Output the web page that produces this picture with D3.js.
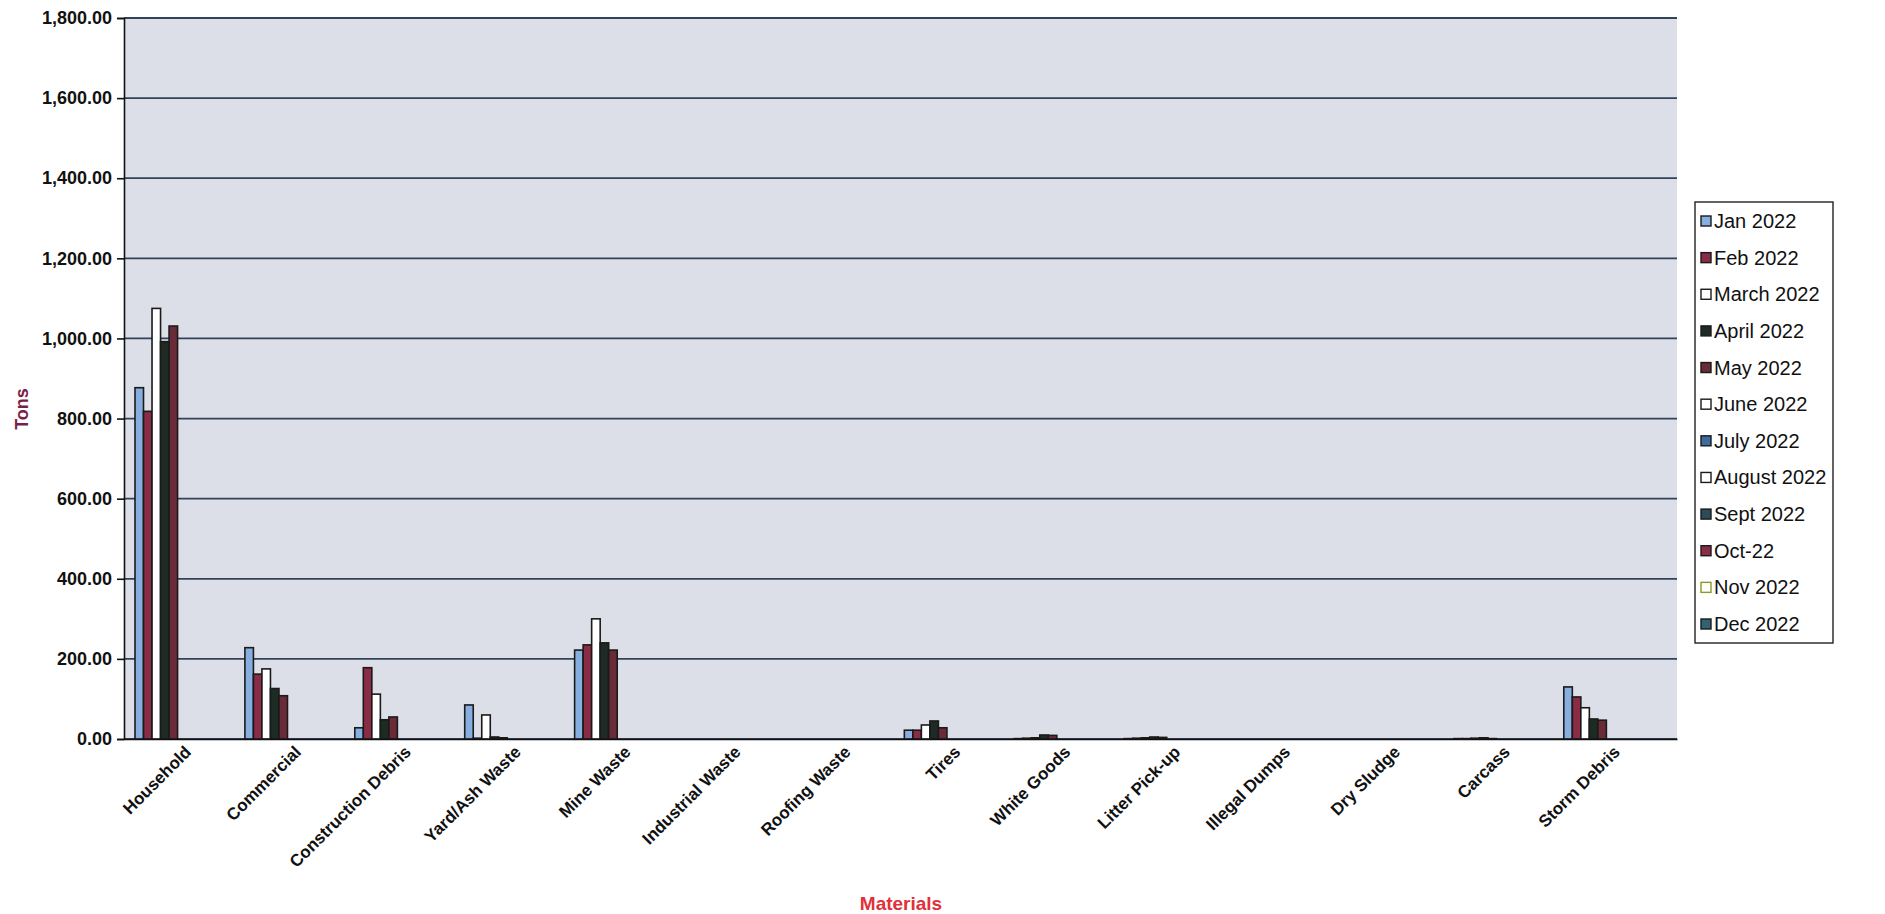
<!DOCTYPE html>
<html><head><meta charset="utf-8">
<script src="https://cdn.jsdelivr.net/npm/d3@7"></script>
<style>body{margin:0;background:#fff;}svg{display:block;}</style>
</head><body>
<svg id="c" width="1885" height="914"></svg>
<script>
const categories = ["Household","Commercial","Construction Debris","Yard/Ash Waste","Mine Waste","Industrial Waste","Roofing Waste","Tires","White Goods","Litter Pick-up","Illegal Dumps","Dry Sludge","Carcass","Storm Debris"];
const seriesNames = ["Jan 2022","Feb 2022","March 2022","April 2022","May 2022","June 2022","July 2022","August 2022","Sept 2022","Oct-22","Nov 2022","Dec 2022"];
const seriesColors = ["#86afe0","#8a2c45","#ffffff","#1e2a24","#6a2b39","#ffffff","#3d6b9e","#ffffff","#2c4a5a","#8c2d46","#ffffff","#2f6276"];
const seriesStrokes = ["#1a1a1a","#1a1a1a","#1a1a1a","#1a1a1a","#1a1a1a","#1a1a1a","#1a1a1a","#1a1a1a","#1a1a1a","#1a1a1a","#8a9a2a","#1a1a1a"];
// values per series (Jan..Dec), one entry per category
const jan = [877, 228, 28, 85, 222, 0, 0, 22, 1, 1, 0, 0, 1, 130];
const feb = [818, 162, 178, 2, 235, 0, 0, 22, 2, 2, 0, 0, 1, 105];
const mar = [1075, 175, 112, 60, 300, 0, 0, 35, 3, 3, 0, 0, 2, 78];
const apr = [992, 126, 48, 5, 240, 0, 0, 45, 10, 5, 0, 0, 3, 50];
const may = [1031, 108, 55, 3, 222, 0, 0, 28, 9, 4, 0, 0, 1, 47];
const jun = [], jul = [], aug = [], sep = [], oct = [], nov = [], dec = [];
const seriesValues = [jan, feb, mar, apr, may, jun, jul, aug, sep, oct, nov, dec];
const yTicks = [0,200,400,600,800,1000,1200,1400,1600,1800];

const FONT = "Liberation Sans, Arial, sans-serif";
const svg = d3.select("#c");
const L = 124, R = 1677, T = 18, B = 739;
const x = d3.scaleBand().domain(categories).range([L, R]).paddingInner(0.07).paddingOuter(0.1);
const xs = d3.scaleBand().domain(seriesNames).range([0, x.bandwidth()]).padding(0);
const y = d3.scaleLinear().domain([0, 1800]).range([B, T]);

svg.append("rect").attr("x", L).attr("y", T).attr("width", R - L).attr("height", B - T).attr("fill", "#dcdfe8");

// gridlines
svg.append("g").selectAll("line").data(yTicks).join("line")
  .attr("x1", L).attr("x2", R).attr("y1", d => y(d)).attr("y2", d => y(d))
  .attr("stroke", "#30435a").attr("stroke-width", 1.8);

// y axis
const fmt = d3.format(",.2f");
const yAxis = d3.axisLeft(y).tickValues(yTicks).tickFormat(fmt).tickSize(7).tickPadding(5);
const gy = svg.append("g").attr("transform", `translate(${L},0)`).call(yAxis);
gy.select(".domain").attr("stroke", "#111").attr("stroke-width", 1.6);
gy.selectAll(".tick line").attr("stroke", "#111").attr("stroke-width", 1.6);
gy.selectAll("text").attr("font-family", FONT).attr("font-weight", "bold").attr("font-size", 18).attr("fill", "#111");

// bars
seriesNames.forEach((s, si) => {
  const vals = seriesValues[si];
  svg.append("g").selectAll("rect").data(vals.map((v, ci) => ({c: categories[ci], v}))).join("rect")
    .attr("x", d => x(d.c) + xs(s))
    .attr("width", xs.bandwidth())
    .attr("y", d => y(d.v))
    .attr("height", d => B - y(d.v))
    .attr("fill", seriesColors[si])
    .attr("stroke", seriesStrokes[si]).attr("stroke-width", 1.6);
});

// x axis
const xAxis = d3.axisBottom(x).tickSize(0).tickPadding(8);
const gx = svg.append("g").attr("transform", `translate(0,${B})`).call(xAxis);
gx.select(".domain").attr("stroke", "#111").attr("stroke-width", 1.6);
gx.selectAll("text").attr("font-family", FONT).attr("font-weight", "bold").attr("font-size", 17).attr("fill", "#111")
  .attr("text-anchor", "end").attr("transform", "translate(-8,0) rotate(-45)").attr("dy", "0.7em");

// axis titles
svg.append("text").attr("x", 901).attr("y", 910).attr("text-anchor", "middle")
  .attr("font-family", FONT).attr("font-weight", "bold").attr("font-size", 19).attr("fill", "#e0303a").text("Materials");
svg.append("text").attr("transform", "translate(28,409) rotate(-90)").attr("text-anchor", "middle")
  .attr("font-family", FONT).attr("font-weight", "bold").attr("font-size", 18).attr("fill", "#7a2048").text("Tons");

// legend
const lg = svg.append("g");
lg.append("rect").attr("x", 1695).attr("y", 202).attr("width", 138).attr("height", 441).attr("fill", "#fff").attr("stroke", "#222").attr("stroke-width", 1.4);
const ly = d3.scalePoint().domain(seriesNames).range([221, 624]);
const items = lg.selectAll("g").data(seriesNames).join("g").attr("transform", d => `translate(1701,${ly(d)})`);
items.append("rect").attr("x", 0).attr("y", -5).attr("width", 10).attr("height", 10)
  .attr("fill", (d, i) => seriesColors[i]).attr("stroke", (d, i) => seriesStrokes[i]).attr("stroke-width", 1.4);
items.append("text").attr("x", 13).attr("y", 0).attr("dy", "0.35em")
  .attr("font-family", FONT).attr("font-size", 20).attr("fill", "#111").text(d => d);
</script>
</body></html>
